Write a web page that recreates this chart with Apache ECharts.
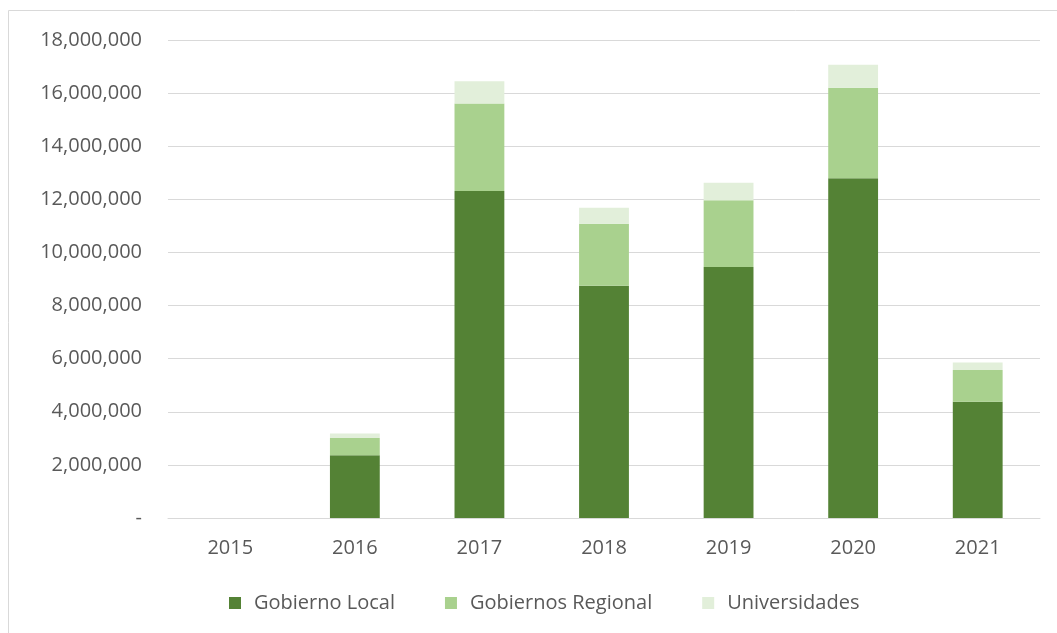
<!DOCTYPE html>
<html><head><meta charset="utf-8">
<script src="https://cdn.jsdelivr.net/npm/echarts@6/dist/echarts.min.js"></script>
<style>html,body{margin:0;padding:0;background:#fff}#c{width:1057px;height:633px}</style>
</head><body><div id="c"></div>
<script>
const categories = ['2015','2016','2017','2018','2019','2020','2021'];
const gobiernoLocal = [0, 2360000, 12310000, 8750000, 9450000, 12790000, 4380000];
const gobiernosRegional = [0, 650000, 3300000, 2330000, 2520000, 3410000, 1190000];
const universidades = [0, 170000, 840000, 600000, 650000, 870000, 290000];
const yTicks = [0, 2000000, 4000000, 6000000, 8000000, 10000000, 12000000, 14000000, 16000000, 18000000];

const chart = echarts.init(document.getElementById('c'));
const font = 'Open Sans';
function fmt(v){ return v === 0 ? '-' : v.toLocaleString('en-US'); }
chart.setOption({
  animation: false,
  graphic: [{type:'rect', shape:{x:8.5,y:10.5,width:1060,height:640}, style:{fill:'none', stroke:'#d9d9d9', lineWidth:1}}],
  grid: {left:168, right:17, top:40, bottom:115},
  xAxis: {type:'category', data:categories,
    axisLine:{lineStyle:{color:'#d9d9d9'}}, axisTick:{show:false},
    axisLabel:{color:'#595959', fontFamily:font, fontSize:20, margin:20}},
  yAxis: {type:'value', min:yTicks[0], max:yTicks[yTicks.length-1], interval:2000000,
    axisLine:{show:false}, axisTick:{show:false},
    splitLine:{lineStyle:{color:'#d9d9d9'}},
    axisLabel:{color:'#595959', fontFamily:font, fontSize:20, margin:26, formatter:fmt}},
  legend: {bottom:15, left:224, itemWidth:12, itemHeight:12, itemGap:50, icon:'rect',
    textStyle:{color:'#595959', fontFamily:font, fontSize:20, padding:[0,0,0,8]}},
  series: [
    {name:'Gobierno Local', type:'bar', stack:'t', data:gobiernoLocal, barWidth:'40%', itemStyle:{color:'#548235'}},
    {name:'Gobiernos Regional', type:'bar', stack:'t', data:gobiernosRegional, itemStyle:{color:'#A9D18E'}},
    {name:'Universidades', type:'bar', stack:'t', data:universidades, itemStyle:{color:'#E2EFDA'}}
  ]
});
</script></body></html>
